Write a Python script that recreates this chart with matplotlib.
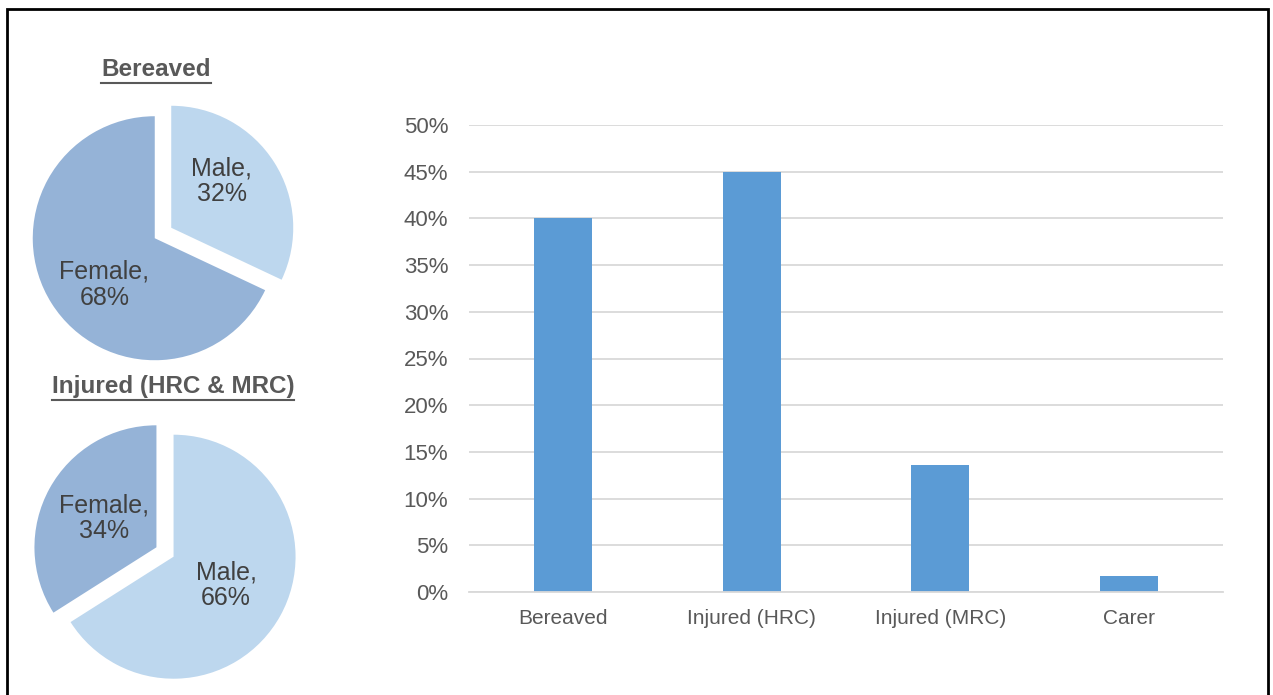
import numpy as np
import matplotlib.pyplot as plt
from matplotlib.lines import Line2D
from matplotlib.patches import Rectangle
from matplotlib.ticker import PercentFormatter

plt.rcParams['font.family'] = ['Liberation Sans', 'DejaVu Sans']

# gender split for the two pies (clockwise from 12 o'clock)
bereaved_genders = ['Male', 'Female']
bereaved_share = [32, 68]
injured_genders = ['Male', 'Female']
injured_share = [66, 34]

# share of respondents by group
groups = ['Bereaved', 'Injured (HRC)', 'Injured (MRC)', 'Carer']
group_share = [0.40, 0.45, 0.136, 0.017]

gender_colors = {'Male': '#BDD7EE', 'Female': '#95B3D7'}
bar_color = '#5B9BD5'
W, H = 1273, 695

fig = plt.figure(figsize=(W / 100, H / 100), dpi=100)
fig.patch.set_facecolor('white')

# frame round the whole graphic (bottom edge runs off the page)
fig.add_artist(Rectangle((7 / W, -0.05), 1261 / W, (H - 9) / H + 0.05,
                         transform=fig.transFigure, fill=False,
                         edgecolor='black', linewidth=2))


def add_pie(cx, cy, shares, genders, title, title_x, title_y, label_dist, label_turn):
    r = 122
    lim = 1.2
    size = 2 * lim * r
    ax = fig.add_axes([(cx - size / 2) / W, (H - cy - size / 2) / H, size / W, size / H])
    labels = [f'{g},\n{s}%' for g, s in zip(genders, shares)]
    wedges, texts = ax.pie(shares, labels=labels, colors=[gender_colors[g] for g in genders],
                           startangle=90, counterclock=False, explode=[0.08] * len(shares),
                           labeldistance=label_dist,
                           wedgeprops=dict(linewidth=0),
                           textprops=dict(fontsize=18, color='#404040', linespacing=1.1))
    # nudge the labels round the centre a little
    a = np.deg2rad(label_turn)
    for t in texts:
        x, y = t.get_position()
        t.set_position((x * np.cos(a) - y * np.sin(a), x * np.sin(a) + y * np.cos(a)))
        t.set_ha('center')
        t.set_va('center')
        t.set_multialignment('center')
    ax.set_xlim(-lim, lim)
    ax.set_ylim(-lim, lim)
    ax.set_aspect('equal')
    ax.axis('off')
    ttl = fig.text(title_x / W, 1 - title_y / H, title, ha='center', va='center',
                   fontsize=17.5, fontweight='bold', color='#595959')
    return ttl


t1 = add_pie(163, 233, bereaved_share, bereaved_genders, 'Bereaved', 156, 70, 0.56, 9)
t2 = add_pie(165, 552, injured_share, injured_genders, 'Injured (HRC & MRC)', 173, 387, 0.49, 0)

# bar chart
ax = fig.add_axes([469 / W, (H - 592) / H, 754 / W, (592 - 125) / H])
ax.bar(range(len(groups)), group_share, width=0.31, color=bar_color)
ax.set_xlim(-0.5, len(groups) - 0.5)
ax.set_ylim(0, 0.5)
ax.set_yticks([i * 0.05 for i in range(11)])
ax.yaxis.set_major_formatter(PercentFormatter(1.0, decimals=0))
ax.set_xticks(range(len(groups)))
ax.set_xticklabels(groups)
ax.grid(axis='y', color='#D9D9D9', linewidth=1.3)
ax.set_axisbelow(True)
for s in ['top', 'right', 'left']:
    ax.spines[s].set_visible(False)
ax.spines['bottom'].set_color('#D9D9D9')
ax.spines['bottom'].set_linewidth(1.3)
ax.tick_params(axis='both', length=0)
ax.tick_params(axis='y', labelsize=16, labelcolor='#595959', pad=15)
ax.tick_params(axis='x', labelsize=15, labelcolor='#595959', pad=12)

# underline the pie titles
fig.canvas.draw()
renderer = fig.canvas.get_renderer()
for t in (t1, t2):
    bb = t.get_window_extent(renderer)
    y = bb.y0 - 1
    fig.add_artist(Line2D([bb.x0 / W, bb.x1 / W], [y / H, y / H], transform=fig.transFigure,
                          color='#595959', linewidth=1.5))

fig.savefig('out.png', dpi=100)
